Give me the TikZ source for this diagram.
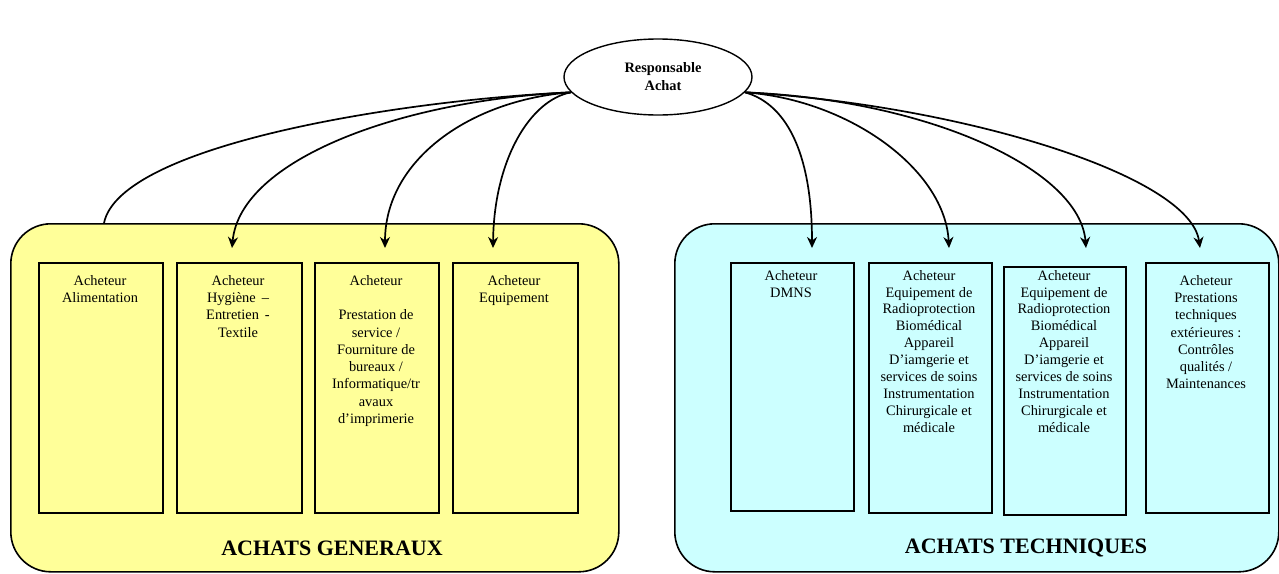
\documentclass[tikz,border=0pt]{standalone}
\usepackage{fontspec}
\setmainfont{Liberation Serif}
\usetikzlibrary{shapes.geometric,arrows.meta}
\definecolor{ylw}{RGB}{255,255,153}
\definecolor{cyn}{RGB}{204,255,255}
\tikzset{
  grp/.style={draw, line width=1.6pt, rounded corners=40pt, inner sep=0, anchor=north west},
  buyer/.style={draw, line width=1.8pt, inner sep=0, anchor=north west},
  btxt/.style={font=\fontsize{14.4}{17.3}\selectfont, align=center, anchor=north, inner sep=0},
  gtitle/.style={font=\bfseries\fontsize{22}{26}\selectfont, inner sep=0},
  link/.style={line width=1.7pt},
  arr/.style={link, -{Stealth[length=11pt,width=10pt,inset=3.5pt]}},
}
\begin{document}
\begin{tikzpicture}[x=1pt,y=-1pt]
\useasboundingbox (0,0) rectangle (1279,573);
% groups
\node[grp, fill=ylw, minimum width=608pt, minimum height=348pt] (gen) at (10,223) {};
\node[grp, fill=cyn, minimum width=604pt, minimum height=348pt] (tec) at (674,223) {};
\node[gtitle] (tgen) at (332,548) {ACHATS GENERAUX};
\node[gtitle] (ttec) at (1026,548) {ACHATS TECHNIQUES};
% yellow buyers
\node[buyer, fill=ylw, minimum width=124pt, minimum height=250pt] (g1) at (38,262) {};
\node[buyer, fill=ylw, minimum width=125pt, minimum height=250pt] (g2) at (176,262) {};
\node[buyer, fill=ylw, minimum width=124pt, minimum height=250pt] (g3) at (314,262) {};
\node[buyer, fill=ylw, minimum width=125pt, minimum height=250pt] (g4) at (452,262) {};
\node[btxt] (tg1) at (100,275) {Acheteur\\Alimentation};
\node[btxt] (tg2) at (238,275) {Acheteur\\Hygiène \,–\\Entretien \,-\\Textile};
\node[btxt] (tg3) at (376,275) {Acheteur\\[17.3pt]Prestation de\\service /\\Fourniture de\\bureaux /\\Informatique/tr\\avaux\\d’imprimerie};
\node[btxt] (tg4) at (514,275) {Acheteur\\Equipement};
% cyan buyers
\node[buyer, fill=cyn, minimum width=123pt, minimum height=248pt] (c1) at (730,262) {};
\node[buyer, fill=cyn, minimum width=123pt, minimum height=250pt] (c2) at (868,262) {};
\node[buyer, fill=cyn, minimum width=122pt, minimum height=248pt] (c3) at (1003,266) {};
\node[buyer, fill=cyn, minimum width=123pt, minimum height=250pt] (c4) at (1145,262) {};
\node[btxt, font=\fontsize{14.4}{16.9}\selectfont] (tc1) at (791,270) {Acheteur\\DMNS};
\node[btxt, font=\fontsize{14.4}{16.9}\selectfont] (tc2) at (929,270) {Acheteur\\Equipement de\\Radioprotection\\Biomédical\\Appareil\\D’iamgerie et\\services de soins\\Instrumentation\\Chirurgicale et\\médicale};
\node[btxt, font=\fontsize{14.4}{16.9}\selectfont] (tc3) at (1064,270) {Acheteur\\Equipement de\\Radioprotection\\Biomédical\\Appareil\\D’iamgerie et\\services de soins\\Instrumentation\\Chirurgicale et\\médicale};
\node[btxt] (tc4) at (1206,275) {Acheteur\\Prestations\\techniques\\extérieures :\\Contrôles\\qualités /\\Maintenances};
% head
\node[ellipse, draw, line width=1.4pt, fill=white, minimum width=188pt, minimum height=76pt, inner sep=0,
      align=center, font=\bfseries\fontsize{14.4}{18}\selectfont] (resp) at (658,77) {\hspace*{10pt}Responsable\\\hspace*{10pt}Achat};
% connector end points
\coordinate (e0) at (104,223);
\coordinate (e1) at (232,248);
\coordinate (e2) at (385,248);
\coordinate (e3) at (493,248);
\coordinate (f1) at (812,248);
\coordinate (f2) at (949,248);
\coordinate (f3) at (1086,248);
\coordinate (f4) at (1200,248);
\coordinate (sl) at (resp.190);
\coordinate (sr) at (resp.350);
% connectors
\draw[link] (sl) .. controls (400,100) and (120,145) .. (e0);
\draw[arr] (sl) .. controls (400,100) and (240,160) .. (e1);
\draw[arr] (sl) .. controls (470,100) and (385,160) .. (e2);
\draw[arr] (sl) .. controls (530,100) and (494,160) .. (e3);
\draw[arr] (sr) .. controls (790,105) and (812,160) .. (f1);
\draw[arr] (sr) .. controls (850,100) and (945,170) .. (f2);
\draw[arr] (sr) .. controls (930,100) and (1080,170) .. (f3);
\draw[arr] (sr) .. controls (960,105) and (1190,175) .. (f4);
\end{tikzpicture}
\end{document}
